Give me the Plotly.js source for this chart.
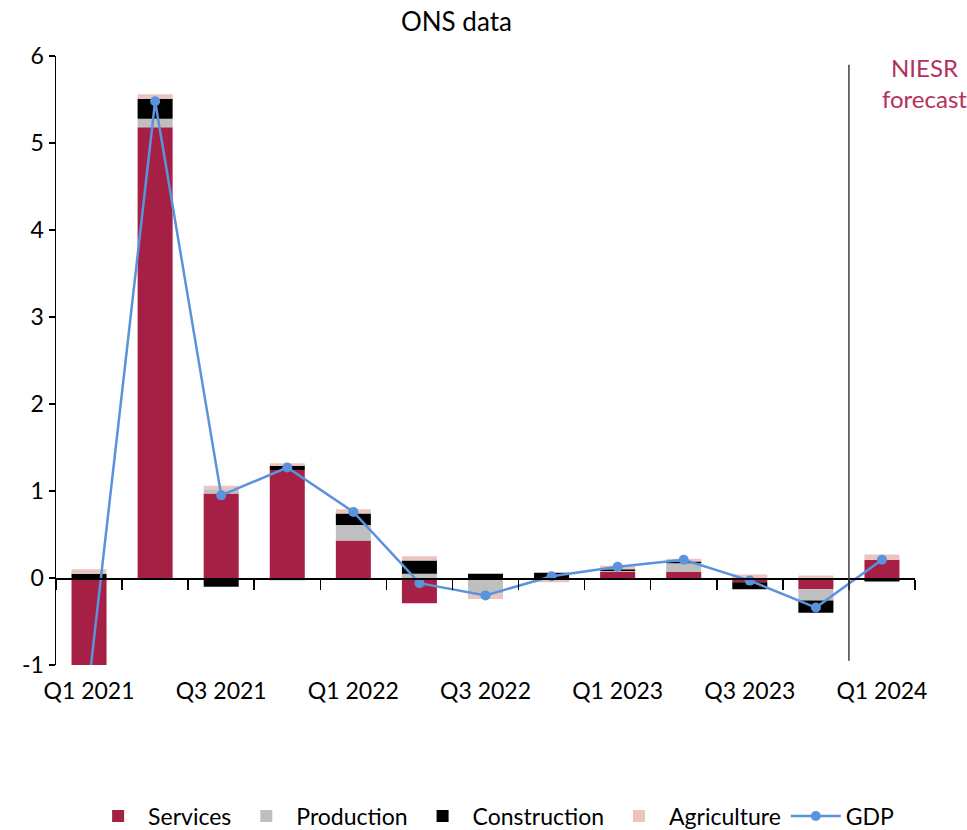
<!DOCTYPE html>
<html>
<head>
<meta charset="utf-8">
<script src="https://cdn.plot.ly/plotly-3.0.1.min.js"></script>
<style>html,body{margin:0;padding:0;background:#fff;}#chart{width:967px;height:830px;}</style>
</head>
<body>
<div id="chart"></div>
<script>
var quarters = ["Q1 2021","Q2 2021","Q3 2021","Q4 2021","Q1 2022","Q2 2022","Q3 2022","Q4 2022","Q1 2023","Q2 2023","Q3 2023","Q4 2023","Q1 2024"];
var tickLabels = ["Q1 2021","","Q3 2021","","Q1 2022","","Q3 2022","","Q1 2023","","Q3 2023","","Q1 2024"];
var yTickVals = [-1, 0, 1, 2, 3, 4, 5, 6];
var yTickText = ["-1", "0", "1", "2", "3", "4", "5", "6"];
var services     = [-1.25, 5.18, 0.97, 1.24, 0.43, -0.29, 0.00, 0.00, 0.07, 0.07, -0.05, -0.13, 0.21];
var production   = [-0.05, 0.10, 0.05, -0.03, 0.18, 0.05, -0.18, 0.00, 0.01, 0.10, 0.00, -0.13, 0.00];
var construction = [0.05, 0.23, -0.10, 0.05, 0.13, 0.15, 0.05, 0.06, 0.02, 0.02, -0.08, -0.14, -0.04];
var agriculture  = [0.05, 0.05, 0.04, 0.03, 0.05, 0.05, -0.06, -0.05, 0.04, 0.03, 0.04, 0.03, 0.06];
var gdp          = [-1.2, 5.48, 0.95, 1.27, 0.76, -0.06, -0.20, 0.02, 0.13, 0.21, -0.03, -0.34, 0.21];
var forecastStart = 11.5;

var font = "Lato, 'Open Sans', sans-serif";
function bar(name, y, color) {
  return {type: "bar", name: name, x: quarters, y: y, marker: {color: color, line: {width: 0}}, hoverinfo: "skip"};
}
var traces = [
  bar("Services", services, "#a61f45"),
  bar("Production", production, "#bfbfbf"),
  bar("Construction", construction, "#000000"),
  bar("Agriculture", agriculture, "#ecc4bf"),
  {type: "scatter", mode: "lines+markers", name: "GDP", x: quarters, y: gdp,
   line: {color: "#5a93db", width: 2.5}, marker: {color: "#5a93db", size: 10}, hoverinfo: "skip"}
];

var layout = {
  width: 967, height: 830,
  margin: {l: 56, r: 52, t: 56, b: 165, autoexpand: false},
  paper_bgcolor: "#fff", plot_bgcolor: "#fff",
  font: {family: font, size: 23, color: "#000"},
  barmode: "relative",
  bargap: 0.47,
  showlegend: true,
  title: {text: "ONS data", x: 0.472, xref: "container", xanchor: "center", y: 0.9735, yref: "container", yanchor: "middle", font: {family: font, size: 26, color: "#000"}},
  xaxis: {
    type: "category", range: [-0.5, 12.5],
    anchor: "free", position: 1/7,
    showline: true, linecolor: "#000", linewidth: 1.5,
    ticks: "outside", ticklen: 10, tickcolor: "#000", tickwidth: 1.5,
    tickson: "boundaries",
    tickmode: "array", tickvals: quarters, ticktext: tickLabels,
    tickangle: 0,
    ticklabelstandoff: 92,
    automargin: false,
    showgrid: false, zeroline: false,
    tickfont: {family: font, size: 23, color: "#000"}
  },
  yaxis: {
    range: [-1, 6],
    tickmode: "array", tickvals: yTickVals, ticktext: yTickText,
    showline: true, linecolor: "#000", linewidth: 1.5,
    ticks: "outside", ticklen: 6, tickcolor: "#000", tickwidth: 1.5,
    automargin: false,
    showgrid: false, zeroline: false,
    tickfont: {family: font, size: 23, color: "#000"}
  },
  legend: {orientation: "h", x: 0.51, xanchor: "center", y: -0.248, yanchor: "middle", xref: "paper",
           font: {family: font, size: 23, color: "#000"}, traceorder: "normal", itemwidth: 50},
  shapes: [{type: "line", xref: "x", yref: "y", x0: forecastStart, x1: forecastStart, y0: -0.95, y1: 5.9,
            line: {color: "#404040", width: 1.5}}],
  annotations: [{xref: "paper", yref: "paper", x: 1.0116, y: 0.956, xanchor: "center", yanchor: "middle",
                 text: "NIESR<br>forecast", showarrow: false, font: {family: font, size: 24, color: "#b5305a"}}]
};
Plotly.newPlot("chart", traces, layout, {displayModeBar: false, staticPlot: true});
</script>
</body>
</html>
